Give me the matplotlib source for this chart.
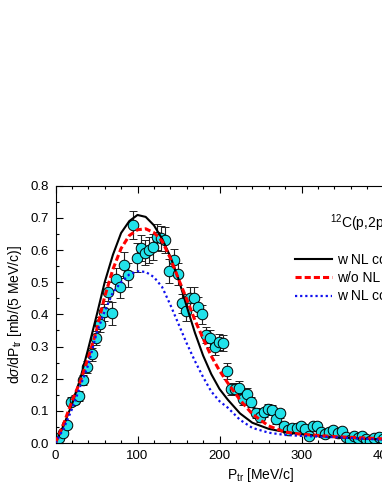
import matplotlib
matplotlib.use("Agg")
import matplotlib.pyplot as plt
from matplotlib.ticker import MultipleLocator, FormatStrFormatter

plt.rcParams['font.family'] = ['Liberation Sans', 'DejaVu Sans']
plt.rcParams['mathtext.fontset'] = 'custom'
plt.rcParams['mathtext.rm'] = 'Liberation Sans'
plt.rcParams['mathtext.it'] = 'Liberation Sans:italic'

p_data = [4, 9, 14, 19, 24, 29, 34, 39, 44, 49, 54, 59, 64, 69, 74, 79, 84, 89,
          94, 99, 104, 109, 114, 119, 124, 129, 134, 139, 144, 149, 154, 159,
          164, 169, 174, 179, 184, 189, 194, 199, 204, 209, 214, 219, 224, 229,
          234, 239, 244, 249, 254, 259, 264, 269, 274, 279, 284, 289, 294, 299,
          304, 309, 314, 319, 324, 329, 334, 339, 344, 349, 354, 359, 364, 369,
          374, 379, 384, 389, 394, 399]
xs_data = [0.015, 0.03, 0.056, 0.128, 0.135, 0.146, 0.196, 0.237, 0.276, 0.327,
           0.369, 0.406, 0.47, 0.403, 0.509, 0.486, 0.553, 0.522, 0.678, 0.576,
           0.607, 0.592, 0.60, 0.61, 0.64, 0.636, 0.631, 0.535, 0.569, 0.525,
           0.434, 0.41, 0.45, 0.45, 0.424, 0.40, 0.336, 0.325, 0.298, 0.315,
           0.31, 0.224, 0.168, 0.168, 0.172, 0.137, 0.152, 0.128, 0.094, 0.08,
           0.095, 0.105, 0.102, 0.074, 0.092, 0.052, 0.04, 0.047, 0.047, 0.052,
           0.044, 0.022, 0.052, 0.054, 0.035, 0.028, 0.035, 0.04, 0.032, 0.036,
           0.02, 0.01, 0.022, 0.015, 0.022, 0.011, 0.006, 0.015, 0.018, 0.012]
xs_err = [0.008, 0.008, 0.01, 0.014, 0.014, 0.015, 0.016, 0.018, 0.02, 0.022,
          0.024, 0.026, 0.03, 0.036, 0.034, 0.034, 0.04, 0.038, 0.044, 0.045,
          0.04, 0.04, 0.04, 0.04, 0.04, 0.04, 0.04, 0.036, 0.035, 0.035,
          0.03, 0.03, 0.036, 0.035, 0.03, 0.03, 0.025, 0.025, 0.025, 0.025,
          0.025, 0.026, 0.02, 0.02, 0.02, 0.018, 0.018, 0.016, 0.015, 0.014,
          0.015, 0.016, 0.015, 0.014, 0.014, 0.012, 0.01, 0.01, 0.01, 0.01,
          0.01, 0.008, 0.01, 0.01, 0.008, 0.008, 0.008, 0.008, 0.008, 0.008,
          0.006, 0.006, 0.006, 0.006, 0.006, 0.006, 0.006, 0.006, 0.006, 0.006]

# calculations
p_calc = [0, 10, 20, 30, 40, 50, 60, 70, 80, 90, 100, 110, 120, 130, 140, 150,
          160, 170, 180, 190, 200, 210, 225, 240, 260, 280, 300, 340, 400, 500]
xs_nl = [0.0, 0.055, 0.12, 0.198, 0.294, 0.395, 0.5, 0.585, 0.653, 0.69, 0.709,
         0.703, 0.677, 0.635, 0.58, 0.51, 0.425, 0.343, 0.272, 0.214, 0.168,
         0.135, 0.092, 0.063, 0.044, 0.034, 0.027, 0.018, 0.011, 0.004]
xs_no_nl = [0.0, 0.06, 0.13, 0.19, 0.265, 0.35, 0.455, 0.54, 0.605, 0.645,
            0.663, 0.666, 0.654, 0.628, 0.575, 0.51, 0.447, 0.382, 0.325, 0.27,
            0.225, 0.187, 0.134, 0.09, 0.053, 0.034, 0.027, 0.02, 0.013, 0.006]
xs_nl2 = [0.0, 0.045, 0.105, 0.175, 0.243, 0.34, 0.41, 0.468, 0.5, 0.524,
          0.534, 0.532, 0.516, 0.485, 0.43, 0.37, 0.31, 0.255, 0.205, 0.16,
          0.13, 0.11, 0.072, 0.047, 0.032, 0.025, 0.022, 0.018, 0.01, 0.004]

labels = ['w NL corr.', 'w/o NL corr.', 'w NL corr. (red.)']

fig = plt.figure(figsize=(3.82, 4.94), dpi=100)
ax = fig.add_axes([55.5 / 382, 51 / 494, 410 / 382, 257.3 / 494])

ax.errorbar(p_data, xs_data, yerr=xs_err, fmt='o', ms=7.6, mfc='#22e2ea',
            mec='black', mew=0.7, ecolor='#222222', elinewidth=0.8,
            capsize=3, capthick=0.8, zorder=2)
ax.plot(p_calc, xs_nl, color='black', lw=1.5, label=labels[0], zorder=3)
ax.plot(p_calc, xs_no_nl, color='red', lw=2.2, ls=(0, (2.0, 1.0)),
        label=labels[1], zorder=3)
ax.plot(p_calc, xs_nl2, color='#1010ee', lw=1.6, ls=(0, (1.0, 1.3)),
        label=labels[2], zorder=3)

ax.set_xlim(0, 500)
ax.set_ylim(0, 0.8)
ax.xaxis.set_major_locator(MultipleLocator(100))
ax.xaxis.set_minor_locator(MultipleLocator(20))
ax.yaxis.set_major_locator(MultipleLocator(0.1))
ax.yaxis.set_minor_locator(MultipleLocator(0.05))
ax.yaxis.set_major_formatter(FormatStrFormatter('%.1f'))
ax.tick_params(which='both', direction='in', top=True, right=True,
               labelsize=9.5, width=0.8)
ax.tick_params(which='major', length=5, pad=5)
ax.tick_params(which='minor', length=2.5)
for s in ax.spines.values():
    s.set_linewidth(0.8)

ax.set_xlabel(r'P$_{\rm tr}$ [MeV/c]', fontsize=10, labelpad=3)
ax.set_ylabel(r'd$\sigma$/dP$_{\rm tr}$ [mb/(5 MeV/c)]', fontsize=10,
              labelpad=4)

ax.text(335, 0.684, r'$^{12}$C(p,2p)', fontsize=10, va='center')
ax.legend(loc='upper left', bbox_to_anchor=(0.584, 0.738), frameon=False,
          fontsize=10, borderpad=0, borderaxespad=0, handlelength=2.7,
          handletextpad=0.3, labelspacing=0.3)

fig.savefig('out.png', dpi=100)
